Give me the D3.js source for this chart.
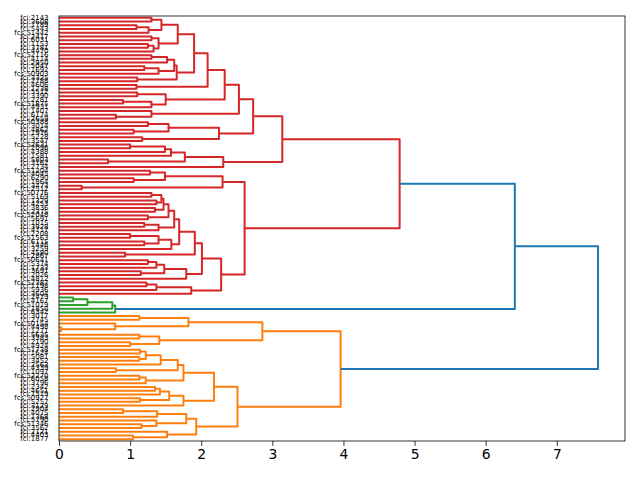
<!DOCTYPE html>
<html lang="en">
<head>
<meta charset="UTF-8">
<title>Dendrogram</title>
<script src="https://cdn.jsdelivr.net/npm/d3@7"></script>
<style>
  body { margin: 0; background: #fff; }
  text { font-family: "DejaVu Sans", sans-serif; }
</style>
</head>
<body>
<div id="chart"></div>
<script>
// leaf labels, top to bottom
const leafLabels = [
  "fci:2143","fci:3608","fci:1789","fci:5443","fcs:51442","fci:2417","fci:6031","fci:1153","fci:3781","fci:4470",
  "fcs:52116","fci:4114","fci:2950","fci:5047","fci:1692","fcs:50903","fci:3325","fci:2788","fci:4606","fci:1238",
  "fci:5512","fci:3390","fci:2281","fcs:51875","fci:4931","fci:1407","fci:6174","fci:2659","fcs:50388","fci:3014",
  "fci:4862","fci:1976","fci:5228","fci:3547","fcs:52631","fci:2096","fci:4388","fci:1581","fci:5803","fci:3162",
  "fci:2734","fcs:51204","fci:4045","fci:6290","fci:1864","fci:3473","fci:2512","fcs:50776","fci:5169","fci:1329",
  "fci:4253","fci:3836","fci:2375","fcs:52048","fci:5691","fci:1015","fci:3928","fci:4717","fci:2208","fcs:51563",
  "fci:6115","fci:1446","fci:3259","fci:4580","fci:2867","fcs:50641","fci:5374","fci:1733","fci:3691","fci:2026",
  "fci:4812","fcs:52387","fci:1198","fci:5936","fci:3604","fci:2479","fci:4167","fcs:51019","fci:1850","fci:6342",
  "fci:3017","fci:2745","fcs:50154","fci:4498","fci:1271","fci:5635","fci:3383","fci:2190","fci:4924","fcs:51738",
  "fci:1624","fci:5081","fci:3452","fci:2563","fci:4339","fci:1097","fcs:52270","fci:6058","fci:3796","fci:2342",
  "fci:4651","fci:1519","fcs:50927","fci:5257","fci:3129","fci:2904","fci:4075","fci:1368","fci:5790","fcs:51346",
  "fci:3562","fci:2121","fci:4403","fci:1877"
];

// merges: [left, right, distance]; a number is a leaf index
const redTree = [
  [ // A
    [ // A1
      [ // A1a
        [ // A1a1
          [ // P
            [ // P1
              [[[0,1,1.30],[[2,3,1.09],4,1.26],1.44],[[5,6,1.30],[[7,8,1.25],9,1.33],1.40],1.67],
              [[[[10,11,1.30],12,1.52],[[13,14,1.20],15,1.40],1.62],[16,17,1.10],1.655],
              1.90],
            [18,19,1.09],
            2.09],
          [[20,21,1.10],[[22,23,0.90],24,1.30],1.50],
          2.33],
        [25,[26,27,0.80],1.30],
        2.53],
      [[[28,29,1.25],[30,31,1.05],1.54],[32,33,1.17],2.25],
      2.73],
    [[[[[34,35,1.00],36,1.49],37,1.575],[38,39,0.69],1.77],40,2.31],
    3.14],
  [ // B
    [[[41,42,1.28],[43,44,1.05],1.49],[45,46,0.32],2.30],
    [ // B2
      [ // B2a
        [ // B2a1
          [ // B2a1a
            [[[[[47,48,1.30],[49,50,1.37],1.44],[51,52,1.35],1.47],[53,54,1.25],1.54],[[55,56,1.20],57,1.40],1.62],
            [[[58,59,1.00],[60,61,1.20],1.40],62,1.58],
            1.69],
          [63,64,0.93],
          1.91],
        [[[[65,66,1.25],67,1.37],[68,69,1.15],1.48],70,1.79],
        2.01],
      [[[71,72,1.23],73,1.37],74,1.86],
      2.28],
    2.61],
  4.79
];

const greenTree = [[[[75,76,0.20],77,0.40],78,0.75],79,0.79];

const orangeTree = [
  [[[80,81,1.13],[82,[83,84,0.03],0.79],1.82],[[85,86,1.13],[87,88,1.00],1.41],2.86],
  [
    [
      [[[[[89,90,1.14],[91,92,1.13],1.22],93,1.43],[94,95,0.80],1.67],[[96,97,1.13],98,1.22],1.75],
      [[[[99,100,1.35],101,1.42],[102,103,1.14],1.55],104,1.75],
      2.18],
    [[[[105,106,0.90],107,1.38],[108,[109,110,1.16],1.37],1.79],[111,[112,113,1.04],1.52],1.93],
    2.51],
  3.96
];

// upper merges: red+green, then root
const joinHeights = [6.41, 7.58];
const xTicks = [0, 1, 2, 3, 4, 5, 6, 7];

const clusterColor = new Map([
  [orangeTree, "#ff7f0e"],
  [greenTree, "#2ca02c"],
  [redTree, "#d62728"]
]);
const aboveColor = "#1f77b4";

const width = 640, height = 480;
const margin = {top: 16, right: 15, bottom: 39, left: 59};
const w = width - margin.left - margin.right;
const h = height - margin.top - margin.bottom;

const svg = d3.select("#chart").append("svg")
  .attr("width", width)
  .attr("height", height);

const g = svg.append("g")
  .attr("transform", `translate(${margin.left},${margin.top})`);

const tree = [[redTree, greenTree, joinHeights[0]], orangeTree, joinHeights[1]];
const root = d3.hierarchy(tree, d => Array.isArray(d) ? [d[0], d[1]] : null);

const x = d3.scaleLinear()
  .domain([0, joinHeights[1] * 1.05])
  .range([0, w]);

const y = d3.scalePoint()
  .domain(leafLabels)
  .range([0, h])
  .padding(0.5);

// leaf positions, then parents sit midway between their children
root.eachAfter(n => {
  if (!n.children) {
    n.py = y(leafLabels[n.data]);
    n.dist = 0;
  } else {
    n.py = (n.children[0].py + n.children[1].py) / 2;
    n.dist = n.data[2];
  }
  const c = n.ancestors().find(a => clusterColor.has(a.data));
  n.color = c ? clusterColor.get(c.data) : aboveColor;
});

const links = root.descendants().filter(n => n.children);
// cluster links first, links above threshold on top
links.sort((a, b) => (a.color === aboveColor) - (b.color === aboveColor));

g.append("g")
  .selectAll("path")
  .data(links)
  .join("path")
    .attr("fill", "none")
    .attr("stroke", d => d.color)
    .attr("stroke-width", 2)
    .attr("stroke-linejoin", "round")
    .attr("d", d => {
      const a = d.children[0], b = d.children[1];
      return `M${x(a.dist)},${a.py}H${x(d.dist)}V${b.py}H${x(b.dist)}`;
    });

// leaf labels
g.append("g")
  .selectAll("text")
  .data(root.leaves())
  .join("text")
    .attr("x", -10.5)
    .attr("y", d => d.py)
    .attr("text-anchor", "end")
    .attr("dominant-baseline", "central")
    .style("font-size", "6.94px")
    .attr("fill", "#000")
    .text(d => leafLabels[d.data]);

// x axis
const xAxis = g.append("g")
  .attr("transform", `translate(0,${h})`)
  .call(d3.axisBottom(x).tickValues(xTicks).tickFormat(d3.format("d")).tickSize(4.86).tickPadding(3.5));
xAxis.select(".domain").remove();
xAxis.selectAll("line").attr("stroke", "#000").attr("stroke-width", 0.8);
xAxis.selectAll("text").style("font-size", "13.9px").attr("fill", "#000")
  .style("font-family", "DejaVu Sans, sans-serif");

// frame
g.append("rect")
  .attr("width", w)
  .attr("height", h)
  .attr("fill", "none")
  .attr("stroke", "#000")
  .attr("stroke-width", 0.8);
</script>
</body>
</html>
